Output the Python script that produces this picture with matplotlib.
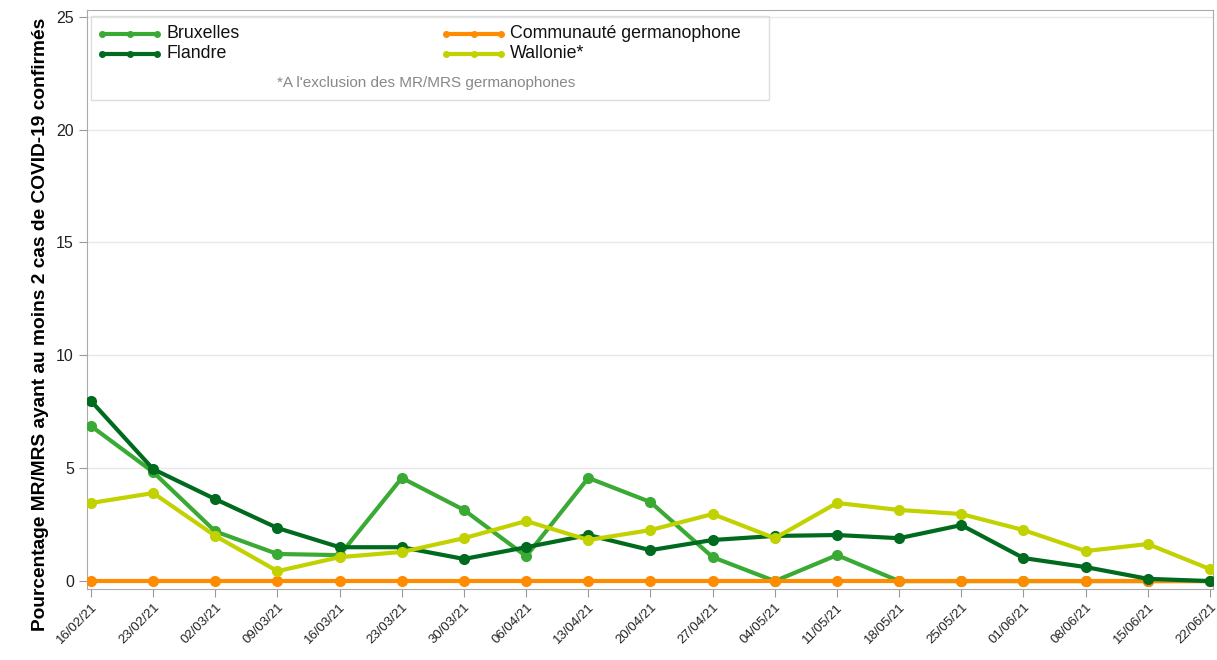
import matplotlib.pyplot as plt
from matplotlib.patches import Rectangle

plt.rcParams['font.family'] = ['Liberation Sans', 'DejaVu Sans']

dates = ["16/02/21", "23/02/21", "02/03/21", "09/03/21", "16/03/21", "23/03/21",
         "30/03/21", "06/04/21", "13/04/21", "20/04/21", "27/04/21", "04/05/21",
         "11/05/21", "18/05/21", "25/05/21", "01/06/21", "08/06/21", "15/06/21",
         "22/06/21"]

bruxelles = [6.87, 4.83, 2.2, 1.2, 1.15, 4.57, 3.15, 1.1, 4.57, 3.5, 1.06, 0.0,
             1.15, 0.0, 0.0, 0.0, 0.0, 0.0, 0.0]
flandre = [7.98, 4.96, 3.63, 2.35, 1.5, 1.5, 0.98, 1.5, 2.04, 1.37, 1.82, 2.0,
           2.04, 1.9, 2.48, 1.02, 0.62, 0.1, 0.0]
germano = [0.0] * 19
wallonie = [3.46, 3.9, 2.0, 0.44, 1.06, 1.29, 1.9, 2.66, 1.82, 2.26, 2.97, 1.9,
            3.46, 3.15, 2.97, 2.26, 1.33, 1.64, 0.53]

c_brux = '#3aaa35'
c_fla = '#006a1e'
c_ger = '#ff8c00'
c_wal = '#c2d200'

fig = plt.figure(figsize=(12.17, 6.6), dpi=100)
ax = fig.add_axes([0.0715, 0.1076, 0.9252, 0.8773])

x = list(range(len(dates)))
lw = 3.0
ms = 7
ax.plot(x, bruxelles, color=c_brux, lw=lw, marker='o', ms=ms, zorder=3)
ax.plot(x, germano, color=c_ger, lw=lw, marker='o', ms=ms, zorder=4)
ax.plot(x, flandre, color=c_fla, lw=lw, marker='o', ms=ms, zorder=5)
ax.plot(x, wallonie, color=c_wal, lw=lw, marker='o', ms=ms, zorder=6)

ax.set_xlim(-0.064, 18.048)
ax.set_ylim(-0.35, 25.3)
ax.set_yticks([0, 5, 10, 15, 20, 25])
ax.set_xticks(x)
ax.set_xticklabels(dates, rotation=45, ha='right', va='top', rotation_mode='anchor',
                   fontsize=9.5)
ax.tick_params(axis='y', labelsize=11.5, colors='#999999', labelcolor='#222222', length=6)
ax.tick_params(axis='x', colors='#999999', labelcolor='#222222', length=6, pad=3)
ax.grid(axis='y', color='#e8e8e8', lw=1)
ax.set_axisbelow(True)
for s in ax.spines.values():
    s.set_color('#aaaaaa')
fig.text(0.033, 0.508, "Pourcentage MR/MRS ayant au moins 2 cas de COVID-19 confirmés",
         fontsize=13.8, fontweight='bold', rotation=90, ha='center', va='center')

# legend box
ax.add_patch(Rectangle((0.0036, 0.844), 0.602, 0.146, transform=ax.transAxes,
                       fill=False, edgecolor='#dddddd', lw=1, zorder=7))


def leg_item(xa, ya, color, label):
    ax.plot([xa, xa + 0.0245, xa + 0.049], [ya, ya, ya], transform=ax.transAxes,
            color=color, lw=3, marker='o', ms=4, zorder=8, clip_on=False)
    ax.text(xa + 0.057, ya, label, transform=ax.transAxes, fontsize=12.8,
            va='center', ha='left', color='#111111', zorder=8)


leg_item(0.0135, 0.9585, c_brux, "Bruxelles")
leg_item(0.0135, 0.9245, c_fla, "Flandre")
leg_item(0.3190, 0.9585, c_ger, "Communauté germanophone")
leg_item(0.3190, 0.9245, c_wal, "Wallonie*")
ax.text(0.169, 0.8745, "*A l'exclusion des MR/MRS germanophones", transform=ax.transAxes,
        fontsize=11, color='#888888', ha='left', va='center', zorder=8)

fig.savefig('out.png', dpi=100)
